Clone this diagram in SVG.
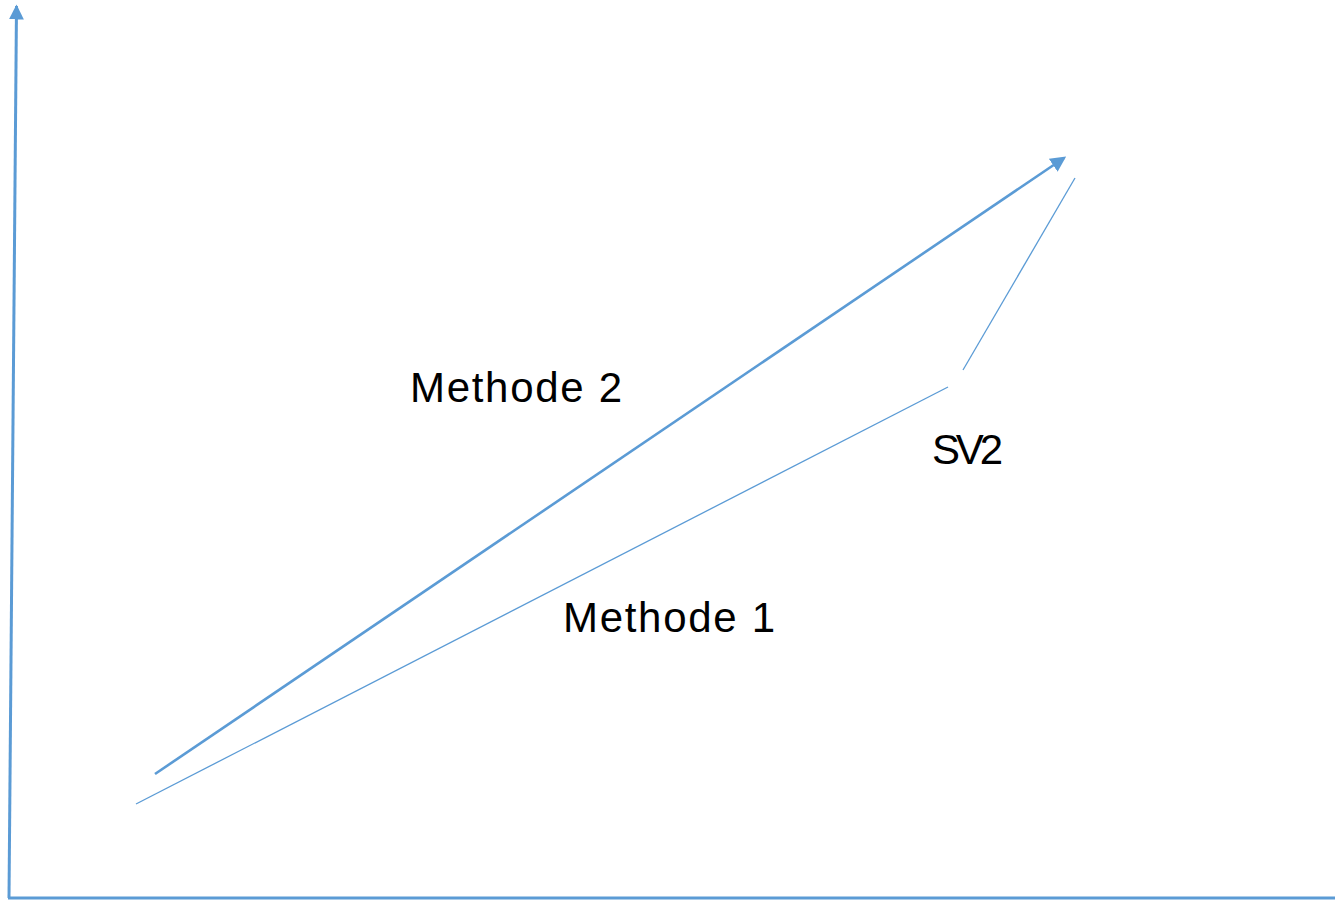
<svg xmlns="http://www.w3.org/2000/svg" width="1335" height="901" viewBox="0 0 1335 901">
<style>
.ln{stroke:#5B9BD5;fill:none}
.t{font-family:"Liberation Sans",Arial,sans-serif;font-size:42px;fill:#000}
</style>
<defs>
<marker id="ah" markerWidth="6" markerHeight="6" refX="5" refY="3" orient="auto" markerUnits="strokeWidth">
<path d="M0,0 L6,3 L0,6 Z" fill="#5B9BD5"/>
</marker>
<marker id="ah2" markerWidth="5" markerHeight="5" refX="4.5" refY="2.5" orient="auto" markerUnits="strokeWidth">
<path d="M0,0 L5,2.5 L0,5 Z" fill="#5B9BD5"/>
</marker>
</defs>
<g id="connectors">
<line id="y-axis" class="ln" x1="9" y1="898" x2="16.5" y2="6" stroke-width="3" marker-end="url(#ah2)"/>
<line id="x-axis" class="ln" x1="8" y1="898" x2="1348" y2="898" stroke-width="3" marker-end="url(#ah2)"/>
<line id="methode2" class="ln" x1="155" y1="774" x2="1064" y2="158" stroke-width="2.6" marker-end="url(#ah)"/>
<line id="methode1" class="ln" x1="136" y1="804" x2="948" y2="387" stroke-width="1.3"/>
<line id="sv2" class="ln" x1="963" y1="370" x2="1075" y2="178" stroke-width="1.3"/>
</g>
<g id="label-methode2"><text class="t" x="410" y="402" textLength="212">Methode 2</text></g>
<g id="label-methode1"><text class="t" x="563" y="632" textLength="212">Methode 1</text></g>
<g id="label-sv2"><text class="t" x="932" y="464" textLength="71">SV2</text></g>
</svg>
